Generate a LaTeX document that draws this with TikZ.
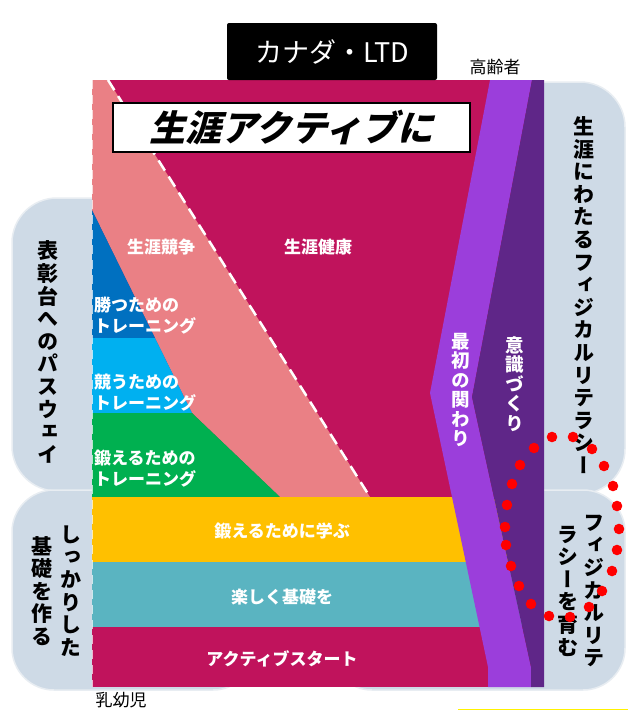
\documentclass[tikz,border=0pt]{standalone}
\usepackage{fontspec}
\setmainfont{Noto Sans CJK JP}
\newfontfamily\jp{Noto Sans CJK JP}
\newfontfamily\jpv[RawFeature=+vert]{Noto Sans CJK JP}
\newfontfamily\jpsl[FakeSlant=0.25]{Noto Sans CJK JP}
\definecolor{magc}{RGB}{192,19,92}
\definecolor{pinkc}{RGB}{234,128,133}
\definecolor{bluec}{RGB}{0,112,192}
\definecolor{cyanc}{RGB}{0,176,240}
\definecolor{greenc}{RGB}{0,176,80}
\definecolor{yellowc}{RGB}{255,192,0}
\definecolor{tealc}{RGB}{90,180,193}
\definecolor{lpurc}{RGB}{155,62,219}
\definecolor{dpurc}{RGB}{95,38,136}
\definecolor{sidec}{RGB}{206,218,230}
\definecolor{sideline}{RGB}{232,237,242}
\tikzset{
  sidebox/.style={fill=sidec, draw=sideline, line width=1.5pt},
  wlab/.style={text=white, font=\jp\bfseries\fontsize{17}{21}\selectfont, inner sep=0pt},
  wlabl/.style={wlab, align=left, anchor=west},
  vlab/.style={align=center, inner sep=0pt, font=\jpv\bfseries\fontsize{21}{22.6}\selectfont},
  vwlab/.style={align=center, inner sep=0pt, text=white, font=\jpv\bfseries\fontsize{18.5}{19.5}\selectfont},
  reddot/.style={fill=red},
}
\begin{document}
\begin{tikzpicture}[x=1pt,y=-1pt]
\useasboundingbox (0,0) rectangle (628,710);
\fill[white] (0,0) rectangle (628,710);
% side boxes
\path[sidebox, rounded corners=45pt] (12,198) rectangle (200,491);
\path[sidebox, rounded corners=42pt] (12,490) rectangle (255,690);
\path[sidebox, rounded corners=45pt] (400,82) rectangle (625,494);
\path[sidebox, rounded corners=42pt] (330,490) rectangle (625,690);
% panel
\fill[magc] (92,80) rectangle (544,687);
\fill[pinkc] (92,80) -- (108,80) -- (370,497) -- (280,497) -- (192,413) -- (92,210) -- cycle;
\fill[bluec] (92,210) -- (155,338) -- (92,338) -- cycle;
\fill[cyanc] (92,338) -- (155,338) -- (192,413) -- (92,413) -- cycle;
\fill[greenc] (92,413) -- (192,413) -- (280,497) -- (92,497) -- cycle;
\fill[yellowc] (92,497) rectangle (544,562);
\fill[tealc] (92,562) rectangle (544,627);
\fill[lpurc] (490,80) -- (532,80) -- (472,397) -- (531,667) -- (531,687) -- (488,687) -- (488,667) -- (430,393) -- cycle;
\fill[dpurc] (532,80) -- (544,80) -- (544,687) -- (531,687) -- (531,667) -- (472,397) -- cycle;
\draw[white, line width=2.5pt, dash pattern=on 12pt off 7pt] (108,80) -- (370,497);
\draw[white, opacity=0.7, line width=1.2pt, dash pattern=on 9pt off 6pt] (92.6,80) -- (92.6,687);
% title
\node[fill=black, rounded corners=2pt, minimum width=210pt, minimum height=57pt, inner sep=0pt,
      text=white, font=\jp\fontsize{27}{30}\selectfont] (canada) at (332,51.5) {カナダ・LTD};
\node[font=\jp\fontsize{17}{20}\selectfont, inner sep=0pt] (elder) at (495,67) {高齢者};
\node[font=\jp\fontsize{17}{20}\selectfont, inner sep=0pt] (infant) at (121,700) {乳幼児};
\node[draw=black, line width=2.5pt, fill=white, minimum width=357pt, minimum height=49pt, inner sep=0pt,
      font=\jpsl\bfseries\fontsize{36}{40}\selectfont] (title) at (291.5,127.5) {生涯アクティブに};
% white labels
\node[wlab] (compete) at (161,247) {生涯競争};
\node[wlab] (health) at (318,247) {生涯健康};
\node[wlabl] (win) at (94,315.5) {勝つための\\トレーニング};
\node[wlabl] (comp) at (94,392.5) {競うための\\トレーニング};
\node[wlabl] (train) at (94,469) {鍛えるための\\トレーニング};
\node[wlab] (learn) at (282,531) {鍛えるために学ぶ};
\node[wlab] (fun) at (282,597) {楽しく基礎を};
\node[wlab] (start) at (282,659) {アクティブスタート};
\node[vwlab] (first) at (461,390) {最\\初\\の\\関\\わ\\り};
\node[vwlab] (aware) at (515,384) {意\\識\\づ\\く\\り};
% side labels
\node[vlab] (podium) at (48,352) {表\\彰\\台\\へ\\の\\パ\\ス\\ウ\\ェ\\イ};
\node[vlab] (solid) at (71,591) {し\\っ\\か\\り\\し\\た};
\node[vlab] (base) at (42,591) {基\\礎\\を\\作\\る};
\node[vlab] (lifelong) at (584,295) {生\\涯\\に\\わ\\た\\る\\フ\\ィ\\ジ\\カ\\ル\\リ\\テ\\ラ\\シ\\ー};
\node[vlab] (phys) at (594,591) {フ\\ィ\\ジ\\カ\\ル\\リ\\テ};
\node[vlab] (nurture) at (568,591) {ラ\\シ\\ー\\を\\育\\む};
% red dots
\foreach \p in {(552,437),(573,437),(592,449),(604,466),(613,486),(617,506),(619,529),(617,550),(612,571),(602,591),(589,607),(570,617),(549,616),(531,604),(519,586),(511,566),(506,545),(505,527),(507,505),(512,484),(520,465),(534,448)}
  \fill[reddot] \p circle (5.3pt);
\draw[yellow, line width=1pt] (458,709.5) -- (628,709.5);
\end{tikzpicture}
\end{document}
